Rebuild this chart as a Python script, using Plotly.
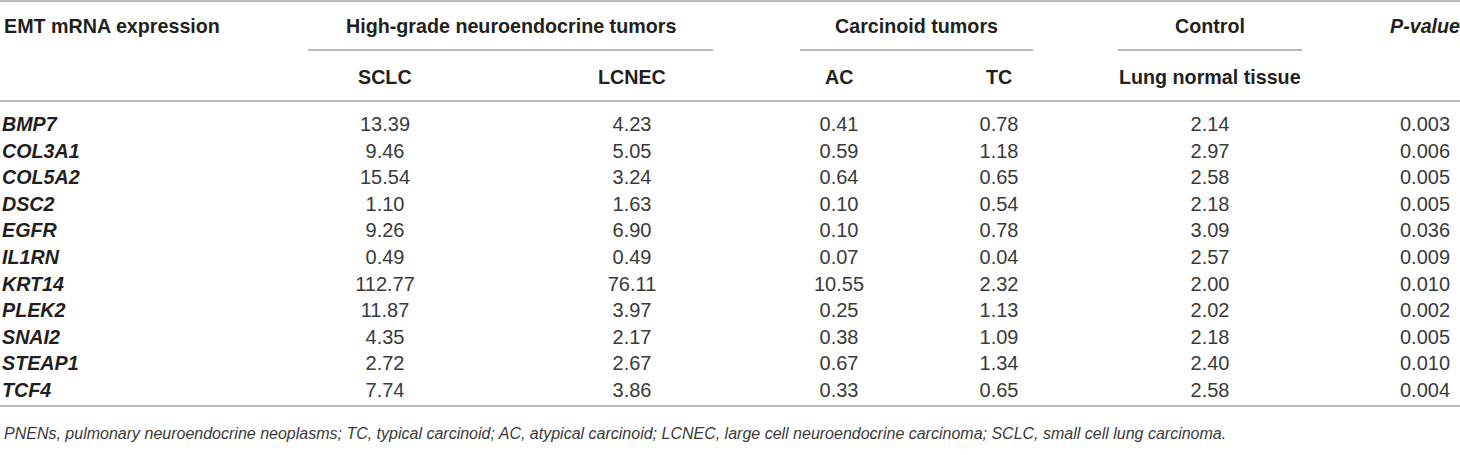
import plotly.graph_objects as go

# ---- data ----
genes = ["BMP7", "COL3A1", "COL5A2", "DSC2", "EGFR", "IL1RN", "KRT14",
         "PLEK2", "SNAI2", "STEAP1", "TCF4"]
sclc = ["13.39", "9.46", "15.54", "1.10", "9.26", "0.49", "112.77", "11.87", "4.35", "2.72", "7.74"]
lcnec = ["4.23", "5.05", "3.24", "1.63", "6.90", "0.49", "76.11", "3.97", "2.17", "2.67", "3.86"]
ac = ["0.41", "0.59", "0.64", "0.10", "0.10", "0.07", "10.55", "0.25", "0.38", "0.67", "0.33"]
tc = ["0.78", "1.18", "0.65", "0.54", "0.78", "0.04", "2.32", "1.13", "1.09", "1.34", "0.65"]
control = ["2.14", "2.97", "2.58", "2.18", "3.09", "2.57", "2.00", "2.02", "2.18", "2.40", "2.58"]
pvalue = ["0.003", "0.006", "0.005", "0.005", "0.036", "0.009", "0.010", "0.002", "0.005", "0.010", "0.004"]

group_headers = ["High-grade neuroendocrine tumors", "Carcinoid tumors", "Control"]
sub_headers = ["SCLC", "LCNEC", "AC", "TC", "Lung normal tissue"]
first_header = "EMT mRNA expression"
p_header = "P-value"
footnote = ("PNENs, pulmonary neuroendocrine neoplasms; TC, typical carcinoid; AC, atypical carcinoid; "
            "LCNEC, large cell neuroendocrine carcinoma; SCLC, small cell lung carcinoma.")

# ---- layout (pixel-like coordinates) ----
W, H = 1460, 455
col_x = [385, 632, 839, 999, 1210, 1425]
group_spans = [(308, 713), (800, 1033), (1118, 1302)]
label_x = 2
y_group, y_sub = 26, 77
row0, dy = 126, 26.6
rows_y = [row0 + i * dy for i in range(len(genes))]
y_lines_full = [1, 101, 406]
y_partial = 50
y_foot = 433

FONT = "Liberation Sans, Arial, Helvetica, sans-serif"
TXT = "#231f20"
DATA_TXT = "#3a3a3a"
LINE = "#a3a3a3"
HS = 19.7
DS = 20

fig = go.Figure()

# gene labels
fig.add_trace(go.Scatter(
    x=[label_x] * len(genes), y=rows_y, mode="text",
    text=[f"<b><i>{g}</i></b>" for g in genes], textposition="middle right",
    textfont=dict(family=FONT, size=HS, color=TXT), hoverinfo="skip", showlegend=False))

for cx, vals in zip(col_x, [sclc, lcnec, ac, tc, control, pvalue]):
    fig.add_trace(go.Scatter(
        x=[cx] * len(vals), y=rows_y, mode="text", text=vals,
        textposition="middle center",
        textfont=dict(family=FONT, size=DS, color=DATA_TXT),
        hoverinfo="skip", showlegend=False))

ann = []
ann.append(dict(x=label_x, y=y_group, text=f"<b>{first_header}</b>", xanchor="left"))
for (a, b), t in zip(group_spans, group_headers):
    ann.append(dict(x=(a + b) / 2, y=y_group, text=f"<b>{t}</b>", xanchor="center"))
ann.append(dict(x=col_x[5], y=y_group, text=f"<b><i>{p_header}</i></b>", xanchor="center"))
for cx, t in zip(col_x[:5], sub_headers):
    ann.append(dict(x=cx, y=y_sub, text=f"<b>{t}</b>", xanchor="center"))
for a in ann:
    a.update(xref="x", yref="y", yanchor="middle", showarrow=False,
             font=dict(family=FONT, size=HS, color=TXT))
ann.append(dict(x=label_x, y=y_foot, xref="x", yref="y", text=f"<i>{footnote}</i>",
                xanchor="left", yanchor="middle", showarrow=False,
                font=dict(family=FONT, size=16, color=DATA_TXT)))

shapes = []
for yl in y_lines_full:
    shapes.append(dict(type="line", xref="x", yref="y", x0=0, x1=W, y0=yl, y1=yl,
                       line=dict(color=LINE, width=1.6)))
for a, b in group_spans:
    shapes.append(dict(type="line", xref="x", yref="y", x0=a, x1=b, y0=y_partial, y1=y_partial,
                       line=dict(color=LINE, width=1.4)))

fig.update_layout(
    width=W, height=H, margin=dict(l=0, r=0, t=0, b=0),
    paper_bgcolor="white", plot_bgcolor="white",
    xaxis=dict(range=[0, W], visible=False, fixedrange=True),
    yaxis=dict(range=[H, 0], visible=False, fixedrange=True),
    annotations=ann, shapes=shapes, showlegend=False,
)

fig.write_html("out.html", config={"displayModeBar": False, "staticPlot": True},
               post_script="document.body.style.margin='0';document.body.style.overflow='hidden';")
